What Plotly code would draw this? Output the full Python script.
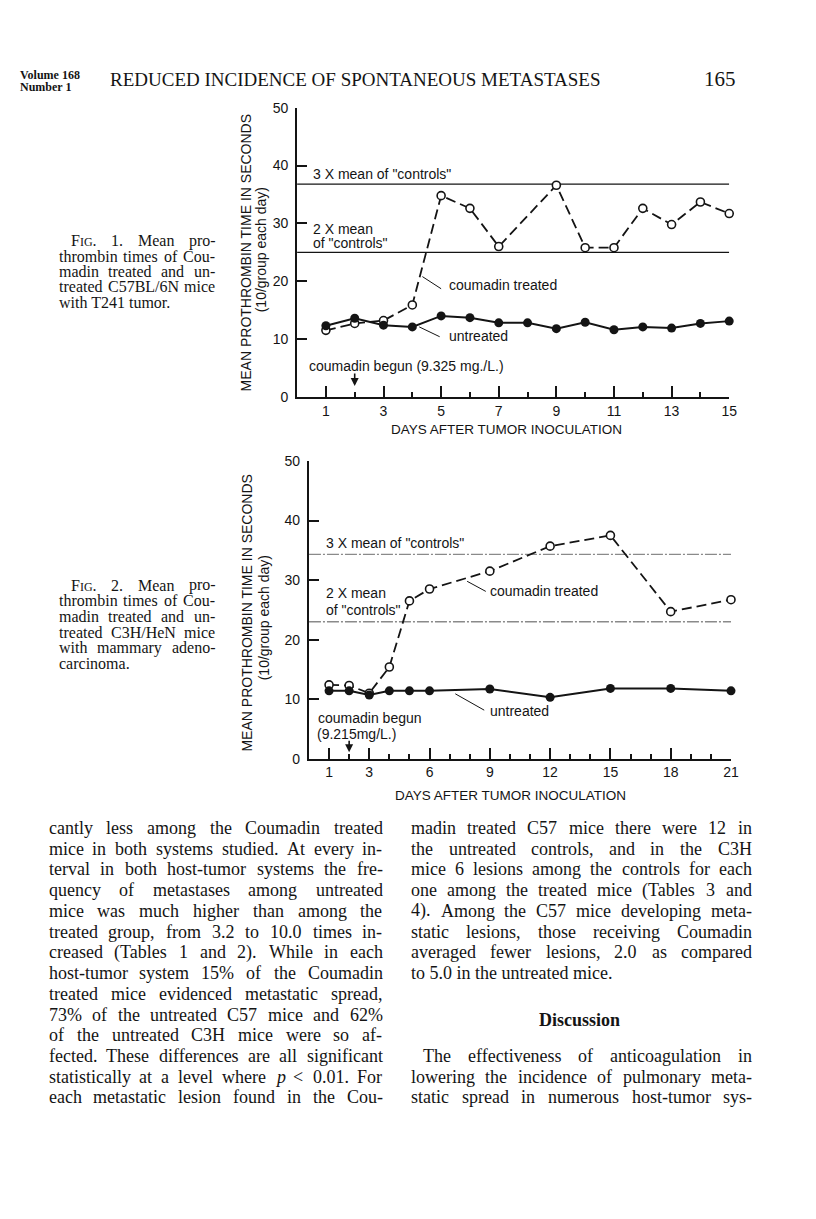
import re
import plotly.graph_objects as go

W, H = 816, 1219
PAD = 8  # the browser's default body margin around the plot div
FW, FH = W - 2 * PAD, H - 2 * PAD
INK = "#141414"
SANS = "Liberation Sans"
SERIF = "Liberation Serif"

# ---- Fig. 1: C57BL/6N mice with T241 tumor ----
days1_untreated = [1, 2, 3, 4, 5, 6, 7, 8, 9, 10, 11, 12, 13, 14, 15]
untreated1 = [12.3, 13.6, 12.4, 12.1, 14.0, 13.7, 12.8, 12.8, 11.8, 12.9, 11.6, 12.1, 11.9, 12.7, 13.1]
days1_treated = [1, 2, 3, 4, 5, 6, 7, 9, 10, 11, 12, 13, 14, 15]
treated1 = [11.5, 12.7, 13.2, 15.9, 34.8, 32.6, 26.0, 36.6, 25.8, 25.8, 32.6, 29.8, 33.7, 31.7]
three_x_1 = 36.8
two_x_1 = 25.0
xticks1 = [1, 3, 5, 7, 9, 11, 13, 15]
xminor1 = [2, 4, 6, 8, 10, 12, 14]

# ---- Fig. 2: C3H/HeN mice with mammary adenocarcinoma ----
days2 = [1, 2, 3, 4, 5, 6, 9, 12, 15, 18, 21]
untreated2 = [11.4, 11.4, 10.7, 11.4, 11.4, 11.4, 11.7, 10.3, 11.8, 11.8, 11.4]
treated2 = [12.4, 12.3, 11.0, 15.4, 26.5, 28.5, 31.5, 35.7, 37.5, 24.7, 26.7]
three_x_2 = 34.3
two_x_2 = 23.0
xticks2 = [1, 3, 6, 9, 12, 15, 18, 21]
xminor2 = [2, 4, 5, 7, 8, 10, 11, 13, 14, 16, 17, 19, 20]

yticks = [0, 10, 20, 30, 40, 50]

caption1 = [
    "FIG. 1. Mean pro-",
    "thrombin times of Cou-",
    "madin treated and un-",
    "treated C57BL/6N mice",
    "with T241 tumor.",
]
caption2 = [
    "FIG. 2. Mean pro-",
    "thrombin times of Cou-",
    "madin treated and un-",
    "treated C3H/HeN mice",
    "with mammary adeno-",
    "carcinoma.",
]
left_col = [
    "cantly less among the Coumadin treated",
    "mice in both systems studied. At every in-",
    "terval in both host-tumor systems the fre-",
    "quency of metastases among untreated",
    "mice was much higher than among the",
    "treated group, from 3.2 to 10.0 times in-",
    "creased (Tables 1 and 2). While in each",
    "host-tumor system 15% of the Coumadin",
    "treated mice evidenced metastatic spread,",
    "73% of the untreated C57 mice and 62%",
    "of the untreated C3H mice were so af-",
    "fected. These differences are all significant",
    "statistically at a level where <i>p</i> < 0.01. For",
    "each metastatic lesion found in the Cou-",
]
right_col = [
    "madin treated C57 mice there were 12 in",
    "the untreated controls, and in the C3H",
    "mice 6 lesions among the controls for each",
    "one among the treated mice (Tables 3 and",
    "4). Among the C57 mice developing meta-",
    "static lesions, those receiving Coumadin",
    "averaged fewer lesions, 2.0 as compared",
    "to 5.0 in the untreated mice.",
]
discussion = [
    "The effectiveness of anticoagulation in",
    "lowering the incidence of pulmonary meta-",
    "static spread in numerous host-tumor sys-",
]

# Times / Liberation Serif advance widths (per 1000 em), used to justify lines
CW = dict(zip("ABCDEFGHIJKLMNOPQRSTUVWXYZ",
              [722, 667, 667, 722, 611, 556, 722, 722, 333, 389, 722, 611, 889,
               722, 722, 556, 722, 667, 556, 611, 722, 722, 944, 722, 722, 611]))
CW.update(zip("abcdefghijklmnopqrstuvwxyz",
              [444, 500, 444, 500, 444, 333, 500, 500, 278, 278, 500, 278, 778,
               500, 500, 500, 500, 333, 389, 278, 500, 500, 722, 500, 500, 444]))
CW.update({c: 500 for c in "0123456789"})
CW.update({" ": 250, ".": 250, ",": 250, "-": 333, "(": 333, ")": 333, "%": 833,
           "<": 564, "/": 278, ":": 278, ";": 278, "'": 333, '"': 408})


def text_w(s, size):
    if s == "FIG.":
        return text_w("F.", size) + text_w("IG", size * 0.76)
    s = re.sub(r"<[^>]+>", "", s)
    return sum(CW.get(c, 500) for c in s) * size / 1000


def X(px):
    return (px - PAD) / FW


def Y(py):
    return 1 - (py - PAD) / FH


fig = go.Figure()


def page_text(text, px, py, size, anchor="left", family=SERIF, **kw):
    if text == "FIG.":
        text = "F<span style='font-size:%dpx'>IG</span>." % round(size * 0.76)
    fig.add_annotation(text=text, x=X(px), y=Y(py), xref="paper", yref="paper",
                       xanchor=anchor, yanchor="middle", showarrow=False,
                       font=dict(family=family, size=size, color=INK), **kw)


def justify(line, x0, x1, py, size, last=False):
    words = line.split(" ")
    if last or len(words) == 1:
        page_text(line, x0, py, size)
        return
    total = sum(text_w(w, size) for w in words)
    gap = (x1 - x0 - total) / (len(words) - 1)
    x = x0
    for w in words:
        page_text(w, x, py, size)
        x += text_w(w, size) + gap


# ---- data traces ----
def add_chart(xa, ya, days_t, treated, days_u, untreated, three_x, two_x, xmax, ref_line):
    for v in (three_x, two_x):
        fig.add_trace(go.Scatter(x=[0, xmax], y=[v, v], mode="lines", line=ref_line,
                                 xaxis=xa, yaxis=ya, showlegend=False, hoverinfo="skip"))
    fig.add_trace(go.Scatter(
        x=days_t, y=treated, mode="lines+markers", xaxis=xa, yaxis=ya, cliponaxis=False,
        line=dict(color=INK, width=1.8, dash="10px,5px"),
        marker=dict(symbol="circle", size=8, color="white", line=dict(color=INK, width=1.6)),
        showlegend=False, name="coumadin treated"))
    fig.add_trace(go.Scatter(
        x=days_u, y=untreated, mode="lines+markers", xaxis=xa, yaxis=ya, cliponaxis=False,
        line=dict(color=INK, width=2),
        marker=dict(symbol="circle", size=9, color=INK),
        showlegend=False, name="untreated"))


add_chart("x", "y", days1_treated, treated1, days1_untreated, untreated1,
          three_x_1, two_x_1, 15, dict(color=INK, width=1.2))
add_chart("x2", "y2", days2, treated2, days2, untreated2,
          three_x_2, two_x_2, 21, dict(color="#8a8a8a", width=1.3, dash="12px,2px,2px,2px"))


def xaxis(domain, rng, ticks, minor, anchor):
    return dict(domain=domain, range=rng, anchor=anchor, showline=True, linecolor=INK,
                linewidth=2, showgrid=False, zeroline=False, ticks="inside", ticklen=11,
                tickwidth=2, tickcolor=INK, tickmode="array", tickvals=ticks,
                ticktext=[str(t) for t in ticks], ticklabelstandoff=0,
                minor=dict(tickmode="array", tickvals=minor, ticks="inside", ticklen=5,
                           tickwidth=2, tickcolor=INK),
                tickfont=dict(family=SANS, size=14, color=INK), fixedrange=True)


def yaxis(domain, anchor):
    return dict(domain=domain, range=[0, 50], anchor=anchor, showline=True, linecolor=INK,
                linewidth=2, showgrid=False, zeroline=False, ticks="inside", ticklen=10,
                tickwidth=2, tickcolor=INK, tickmode="array", tickvals=yticks,
                ticklabelstandoff=4, tickfont=dict(family=SANS, size=14, color=INK),
                fixedrange=True)


fig.update_layout(
    width=FW, height=FH, margin=dict(l=0, r=0, t=0, b=0),
    paper_bgcolor="white", plot_bgcolor="white", showlegend=False,
    xaxis=xaxis([X(300), X(736.5)], [0, 15], xticks1, xminor1, "y"),
    yaxis=yaxis([Y(394), Y(101)], "x"),
    xaxis2=xaxis([X(312), X(738.3)], [0, 21], xticks2, xminor2, "y2"),
    yaxis2=yaxis([Y(760.7), Y(459)], "x2"),
)


# ---- chart labels ----
def chart_text(text, x, y, xa, ya, size=14, anchor="left"):
    fig.add_annotation(text=text, x=x, y=y, xref=xa, yref=ya, xanchor=anchor,
                       yanchor="middle", showarrow=False,
                       font=dict(family=SANS, size=size, color=INK))


def leader(x0, y0, x1, y1, xa, ya):
    fig.add_shape(type="line", x0=x0, y0=y0, x1=x1, y1=y1, xref=xa, yref=ya,
                  line=dict(color=INK, width=1))


def arrow(x, y, xa, ya, length):
    fig.add_annotation(text="", x=x, y=y, xref=xa, yref=ya, ax=0, ay=-length,
                       showarrow=True, arrowhead=2, arrowsize=1, arrowwidth=1.6,
                       arrowcolor=INK)


# Fig. 1
chart_text('3 X mean of "controls"', 0.5, 38.6, "x", "y")
chart_text("2 X mean", 0.5, 29.0, "x", "y")
chart_text('of "controls"', 0.5, 26.6, "x", "y")
chart_text("coumadin treated", 5.2, 19.3, "x", "y")
leader(4.35, 20.8, 5.0, 18.7, "x", "y")
chart_text("untreated", 5.2, 10.6, "x", "y")
leader(4.24, 12.1, 4.95, 10.4, "x", "y")
chart_text("coumadin begun (9.325 mg./L.)", 0.33, 5.3, "x", "y")
arrow(2, 1.9, "x", "y", 14)

# Fig. 2
chart_text('3 X mean of "controls"', 0.75, 36.3, "x2", "y2")
chart_text("2 X mean", 0.75, 27.8, "x2", "y2")
chart_text('of "controls"', 0.75, 25.0, "x2", "y2")
chart_text("coumadin treated", 8.9, 28.1, "x2", "y2")
leader(7.87, 29.8, 8.8, 28.1, "x2", "y2")
chart_text("untreated", 8.9, 8.0, "x2", "y2")
leader(7.28, 10.9, 8.72, 8.15, "x2", "y2")
chart_text("coumadin begun", 0.36, 6.9, "x2", "y2")
chart_text("(9.215mg/L.)", 0.29, 4.1, "x2", "y2")
arrow(2, 1.1, "x2", "y2", 13)

# axis titles
for px, py, text in [(248, 248, "MEAN PROTHROMBIN TIME IN SECONDS"),
                     (263, 245, "(10/group each day)"),
                     (249, 613, "MEAN PROTHROMBIN TIME IN SECONDS"),
                     (266, 618, "(10/group each day)")]:
    fig.add_annotation(text=text, x=X(px), y=Y(py), xref="paper", yref="paper",
                       textangle=-90, showarrow=False, xanchor="center", yanchor="middle",
                       font=dict(family=SANS, size=14, color=INK))
page_text("DAYS AFTER TUMOR INOCULATION", 512, 427, 13.5, anchor="center", family=SANS)
page_text("DAYS AFTER TUMOR INOCULATION", 516, 798, 13.5, anchor="center", family=SANS)

# ---- page header ----
page_text("<b>Volume 168</b>", 18, 68, 12)
page_text("<b>Number 1</b>", 18, 80, 12)
page_text("REDUCED INCIDENCE OF SPONTANEOUS METASTASES", 359, 72, 19, anchor="center")
page_text("165", 727, 72, 21, anchor="center")

# ---- figure captions ----
for i, line in enumerate(caption1):
    x0 = 70 if i == 0 else 57
    justify(line, x0, 215, 236 + 15.5 * i, 16, last=(i == len(caption1) - 1))
for i, line in enumerate(caption2):
    x0 = 70 if i == 0 else 57
    justify(line, x0, 215, 585 + 15.8 * i, 16, last=(i == len(caption2) - 1))

# ---- body text ----
for i, line in enumerate(left_col):
    justify(line, 47, 384, 831 + 21 * i, 18)
for i, line in enumerate(right_col):
    justify(line, 413, 757, 831 + 21 * i, 18, last=(i == len(right_col) - 1))
page_text("<b>Discussion</b>", 585, 1026, 18, anchor="center")
for i, line in enumerate(discussion):
    x0 = 425 if i == 0 else 413
    justify(line, x0, 757, 1062 + 21 * i, 18)

fig.write_html("out.html", config={"displayModeBar": False})
